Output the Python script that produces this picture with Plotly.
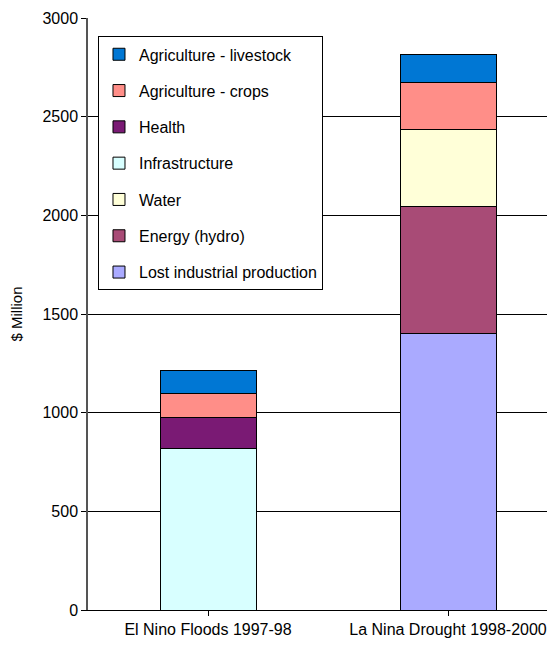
import plotly.graph_objects as go

categories = ["El Nino Floods 1997-98", "La Nina Drought 1998-2000"]

series_names = [
    "Lost industrial production",
    "Energy (hydro)",
    "Water",
    "Infrastructure",
    "Health",
    "Agriculture - crops",
    "Agriculture - livestock",
]
lost_industrial = [0, 1400]
energy_hydro = [0, 643]
water = [0, 390]
infrastructure = [820, 0]
health = [157, 0]
agri_crops = [120, 240]
agri_livestock = [115, 140]

series_values = [lost_industrial, energy_hydro, water, infrastructure,
                 health, agri_crops, agri_livestock]
colors = ["#AAAAFF", "#A84B76", "#FFFFD8", "#D8FFFF", "#7A1A74", "#FF8E88", "#0077D4"]

y_ticks = [0, 500, 1000, 1500, 2000, 2500, 3000]

fig = go.Figure()
n = len(series_names)
for i, (name, vals, col) in enumerate(zip(series_names, series_values, colors)):
    fig.add_trace(go.Bar(
        x=[0, 1], y=vals, name=name, legendgroup=name, legendrank=n - i,
        marker=dict(color=col, line=dict(color="black", width=1)),
        width=0.4,
    ))

fig.update_layout(
    width=547, height=637,
    barmode="stack",
    paper_bgcolor="white", plot_bgcolor="white",
    margin=dict(l=80, r=0, t=10, b=35),
    font=dict(family="Liberation Sans, Arial, sans-serif", size=16, color="black"),
    showlegend=True,
    legend=dict(
        x=0.0214, y=0.969, xanchor="left", yanchor="top",
        traceorder="grouped",
        bordercolor="black", borderwidth=1, bgcolor="white",
        font=dict(size=16),
        tracegroupgap=12.5,
    ),
    xaxis=dict(
        range=[-0.5, 1.4458],
        tickmode="array", tickvals=[0, 1], ticktext=categories,
        tickson="boundaries", ticks="outside", ticklen=5, tickcolor="black",
        showline=True, linecolor="black", linewidth=1,
        showgrid=False, zeroline=False, automargin=False,
        tickfont=dict(size=16),
    ),
    yaxis=dict(
        range=[0, 3000],
        tickmode="array", tickvals=y_ticks,
        ticks="outside", ticklen=5, tickcolor="black",
        showline=True, linecolor="#555555", linewidth=1.5,
        showgrid=True, gridcolor="black", gridwidth=1,
        zeroline=False, automargin=False,
        tickfont=dict(size=16),
        title=dict(text="$ Million", font=dict(size=15), standoff=34),
    ),
)

fig.write_html("out.html")
